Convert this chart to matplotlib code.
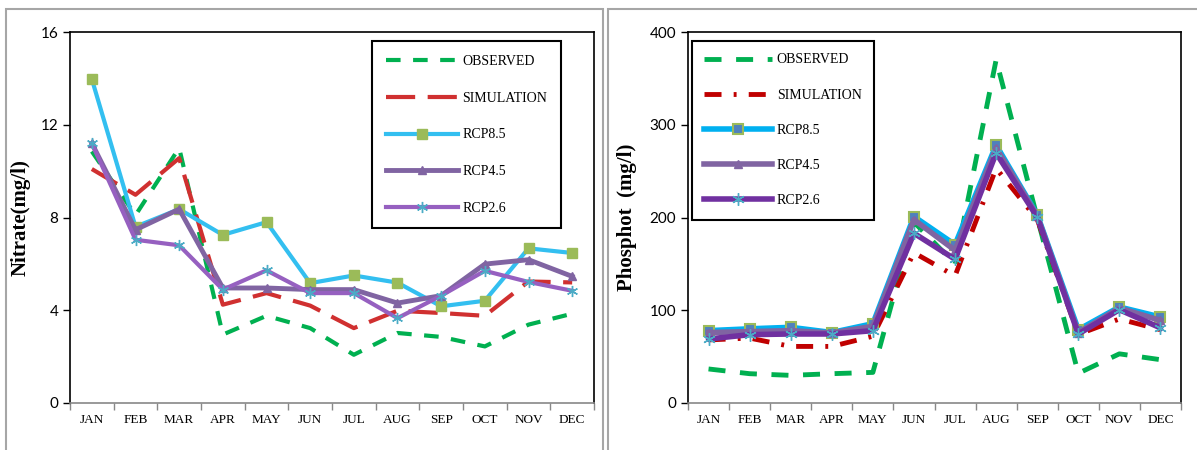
import matplotlib
matplotlib.use("Agg")
from matplotlib import pyplot as plt
from matplotlib.patches import Rectangle
import numpy as np

months = ['JAN', 'FEB', 'MAR', 'APR', 'MAY', 'JUN', 'JUL', 'AUG', 'SEP', 'OCT', 'NOV', 'DEC']

# Nitrate (mg/l)
nit_observed = [10.85, 8.1, 11.0, 2.95, 3.76, 3.23, 2.08, 3.02, 2.85, 2.44, 3.38, 3.85]
nit_simulation = [10.09, 8.98, 10.56, 4.24, 4.74, 4.2, 3.23, 3.98, 3.88, 3.76, 5.24, 5.2]
nit_rcp85 = [13.97, 7.6, 8.36, 7.25, 7.8, 5.17, 5.5, 5.19, 4.17, 4.41, 6.67, 6.47]
nit_rcp45 = [11.2, 7.47, 8.36, 4.96, 4.96, 4.89, 4.89, 4.31, 4.63, 5.99, 6.18, 5.46]
nit_rcp26 = [11.2, 7.04, 6.8, 4.89, 5.72, 4.74, 4.74, 3.66, 4.63, 5.7, 5.22, 4.84]

# Phosphot (mg/l)
pho_observed = [36.7, 31.6, 29.8, 31.6, 33.0, 195.0, 150.0, 370.0, 200.0, 32.0, 53.0, 46.7]
pho_simulation = [68.0, 70.0, 61.0, 61.0, 72.0, 162.0, 137.0, 253.0, 198.0, 74.0, 90.6, 79.0]
pho_rcp85 = [78.0, 80.0, 81.6, 76.0, 85.5, 201.0, 170.7, 278.0, 203.0, 79.0, 103.5, 92.7]
pho_rcp45 = [76.0, 77.0, 78.0, 75.5, 82.7, 197.7, 164.6, 275.0, 202.0, 76.0, 102.4, 89.0]
pho_rcp26 = [69.0, 73.7, 74.4, 74.4, 78.0, 183.0, 155.0, 269.5, 200.5, 74.4, 100.6, 81.0]

W, H = 1197, 450
fig = plt.figure(figsize=(W / 100, H / 100), dpi=100)

# panel frames
for x0, x1 in [(6, 603), (608, 1210)]:
    fig.patches.append(Rectangle((x0 / W, -0.1), (x1 - x0) / W, (H - 9) / H + 0.1,
                                 transform=fig.transFigure, fill=False,
                                 edgecolor='#a6a6a6', lw=1.5))

serif = 'Liberation Serif'
x = np.arange(len(months))


def style_axes(ax, ymax, ystep, ylabel):
    ax.set_xlim(-0.5, 11.5)
    ax.set_ylim(0, ymax)
    ax.set_yticks(np.arange(0, ymax + 1, ystep))
    ax.set_xticks(np.arange(-0.5, 12, 1))
    ax.set_xticklabels([])
    ax.set_xticks(x, minor=True)
    ax.set_xticklabels(months, minor=True, fontfamily=serif, fontsize=9.5)
    ax.tick_params(axis='x', which='major', direction='out', length=5, color='#888888', width=1)
    ax.tick_params(axis='x', which='minor', length=0, pad=8)
    ax.tick_params(axis='y', direction='out', length=5, width=1, labelsize=11)
    for lab in ax.get_yticklabels():
        lab.set_fontfamily('Lato')
    ax.spines['bottom'].set_color('#888888')
    ax.spines['bottom'].set_linewidth(1.2)
    for s in ['left', 'top', 'right']:
        ax.spines[s].set_color('black')
        ax.spines[s].set_linewidth(1.2)
    ax.set_ylabel(ylabel, fontfamily=serif, fontweight='bold', fontsize=15)


# left: nitrate
ax1 = fig.add_axes([70 / W, 47 / H, 524 / W, 371 / H])
ax1.plot(x, nit_observed, color='#00b050', lw=3, dashes=(3.5, 3), label='OBSERVED')
ax1.plot(x, nit_simulation, color='#d03030', lw=3, dashes=(7, 3), label='SIMULATION')
ax1.plot(x, nit_rcp85, color='#33bff0', lw=3, marker='s', ms=7,
         markerfacecolor='#9bbb59', markeredgecolor='#9bbb59', label='RCP8.5')
ax1.plot(x, nit_rcp45, color='#8064a2', lw=3.5, marker='^', ms=6,
         markerfacecolor='#8064a2', markeredgecolor='#8064a2', label='RCP4.5')
ax1.plot(x, nit_rcp26, color='#9660c0', lw=3, marker=(6, 2, 0), ms=8,
         markeredgecolor='#4bacc6', markeredgewidth=1, label='RCP2.6')
style_axes(ax1, 16, 4, 'Nitrate(mg/l)')
ax1.yaxis.set_label_coords(-0.075, 0.5)
leg1 = ax1.legend(loc='upper left', bbox_to_anchor=(0.576, 0.975), frameon=True,
                  fancybox=False, edgecolor='black', framealpha=1,
                  prop={'family': serif, 'size': 10}, handlelength=5.2,
                  labelspacing=1.7, borderpad=1.0, handletextpad=0.3,
                  borderaxespad=0)
leg1.get_frame().set_linewidth(1.5)

# right: phosphot
ax2 = fig.add_axes([688 / W, 47 / H, 493 / W, 371 / H])
ax2.plot(x, pho_observed, color='#00b050', lw=3.5, dashes=(3.5, 3), label='OBSERVED')
ax2.plot(x, pho_simulation, color='#c00000', lw=3.5, dashes=(3.5, 2.5, 0.6, 2.5), label='SIMULATION')
ax2.plot(x, pho_rcp85, color='#00b0f0', lw=4, marker='s', ms=7,
         markerfacecolor='#4f81bd', markeredgecolor='#9bbb59', markeredgewidth=1.5, label='RCP8.5')
ax2.plot(x, pho_rcp45, color='#8064a2', lw=4, marker='^', ms=6,
         markerfacecolor='#8064a2', markeredgecolor='#8064a2', label='RCP4.5')
ax2.plot(x, pho_rcp26, color='#7030a0', lw=4, marker=(6, 2, 0), ms=9,
         markeredgecolor='#4bacc6', markeredgewidth=1, label='RCP2.6')
style_axes(ax2, 400, 100, 'Phosphot  (mg/l)')
ax2.yaxis.set_label_coords(-0.103, 0.5)
leg2 = ax2.legend(loc='upper left', bbox_to_anchor=(0.008, 0.976), frameon=True,
                  fancybox=False, edgecolor='black', framealpha=1,
                  prop={'family': serif, 'size': 10}, handlelength=4.9,
                  labelspacing=1.6, borderpad=0.9, handletextpad=0.3,
                  borderaxespad=0)
leg2.get_frame().set_linewidth(1.5)

fig.savefig('out.png', dpi=100)
